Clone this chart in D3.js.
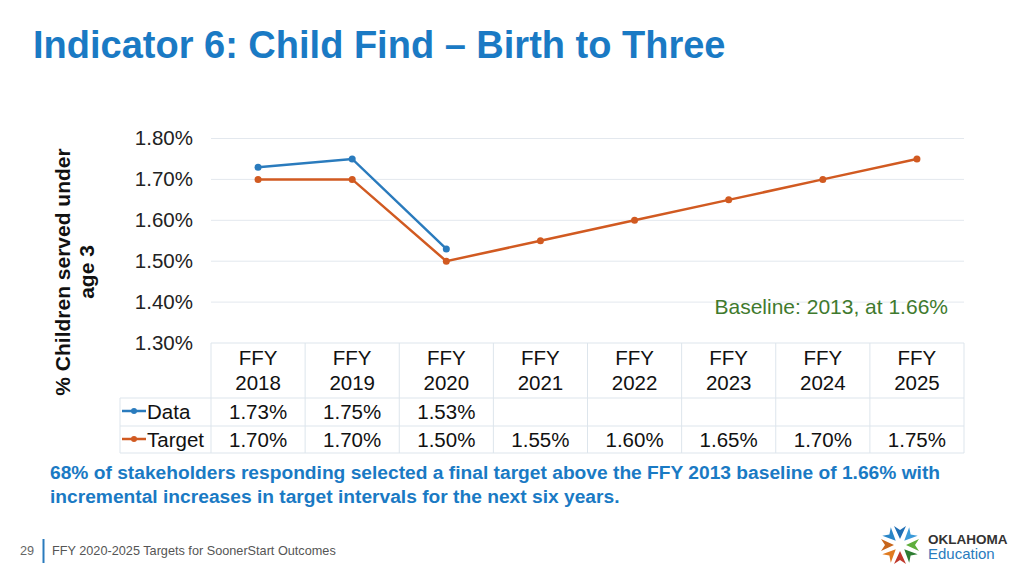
<!DOCTYPE html>
<html><head><meta charset="utf-8">
<script src="https://cdn.jsdelivr.net/npm/d3@7"></script>
<style>body{margin:0;background:#fff}svg{display:block;font-family:"Liberation Sans",Arial,sans-serif}</style>
</head><body><svg id="c" width="1024" height="576"></svg>
<script>
const categories = ["FFY 2018","FFY 2019","FFY 2020","FFY 2021","FFY 2022","FFY 2023","FFY 2024","FFY 2025"];
const dataValues = [1.73, 1.75, 1.53, null, null, null, null, null];
const targetValues = [1.70, 1.70, 1.50, 1.55, 1.60, 1.65, 1.70, 1.75];
const yTicks = [1.30, 1.40, 1.50, 1.60, 1.70, 1.80];
const seriesNames = ["Data", "Target"];

const svg = d3.select("#c");
const blue = "#2a7bbd", orange = "#d15a21", grid = "#e3e8ee";

svg.append("text").attr("x",33).attr("y",58).attr("fill","#1a7ac4")
  .attr("font-weight","bold").attr("font-size",38).text("Indicator 6: Child Find \u2013 Birth to Three");

const x = d3.scaleBand().domain(categories).range([211,964]);
const y = d3.scaleLinear().domain([1.30,1.80]).range([343,138.5]);

// grid
svg.append("g").selectAll("line").data(yTicks.slice(1)).join("line")
  .attr("x1",211).attr("x2",964).attr("y1",d=>y(d)).attr("y2",d=>y(d))
  .attr("stroke",grid).attr("stroke-width",1);

// y axis
const ya = svg.append("g").attr("transform","translate(193,0)")
  .call(d3.axisLeft(y).tickValues(yTicks).tickFormat(d=>d.toFixed(2)+"%").tickSize(0).tickPadding(0));
ya.select(".domain").remove();
ya.selectAll("text").attr("font-size",20.5).attr("fill","#222").attr("font-family","Liberation Sans, Arial, sans-serif").attr("dy","0.3em");

// y label
const yl = svg.append("text").attr("transform","translate(70,272) rotate(-90)")
  .attr("text-anchor","middle").attr("font-weight","bold").attr("font-size",21).attr("fill","#111");
yl.append("tspan").attr("x",0).attr("dy",0).text("% Children served under");
yl.append("tspan").attr("x",0).attr("dy",24).text("age 3");

// lines
const cx = d=>x(d)+x.bandwidth()/2;
const series = [{name:seriesNames[0],vals:dataValues,color:blue},{name:seriesNames[1],vals:targetValues,color:orange}];
series.forEach(s=>{
  const pts = categories.map((c,i)=>({c,v:s.vals[i]})).filter(p=>p.v!=null);
  svg.append("path").datum(pts).attr("fill","none").attr("stroke",s.color).attr("stroke-width",2.5)
    .attr("d",d3.line().x(p=>cx(p.c)).y(p=>y(p.v)));
  svg.append("g").selectAll("circle").data(pts).join("circle")
    .attr("cx",p=>cx(p.c)).attr("cy",p=>y(p.v)).attr("r",3.5).attr("fill",s.color);
});

// baseline annotation
svg.append("text").attr("x",948).attr("y",314).attr("text-anchor","end").attr("fill","#3f7a2e")
  .attr("font-size",21).text("Baseline: 2013, at 1.66%");

// data table
const tb = svg.append("g");
const tc = "#dde5ec";
tb.append("line").attr("x1",211).attr("x2",964).attr("y1",343).attr("y2",343).attr("stroke",tc);
[398,426,453].forEach(r=>tb.append("line").attr("x1",120).attr("x2",964).attr("y1",r).attr("y2",r).attr("stroke",tc));
categories.forEach(c=>tb.append("line").attr("x1",x(c)).attr("x2",x(c)).attr("y1",343).attr("y2",453).attr("stroke",tc));
tb.append("line").attr("x1",964).attr("x2",964).attr("y1",343).attr("y2",453).attr("stroke",tc);
tb.append("line").attr("x1",120).attr("x2",120).attr("y1",398).attr("y2",453).attr("stroke",tc);
categories.forEach(c=>{
  const [a,b] = c.split(" ");
  tb.append("text").attr("x",cx(c)).attr("y",365).attr("text-anchor","middle").attr("font-size",20.5).attr("fill","#111").text(a);
  tb.append("text").attr("x",cx(c)).attr("y",390).attr("text-anchor","middle").attr("font-size",20.5).attr("fill","#111").text(b);
});
const rowY = [418.5, 446.5];
series.forEach((s,si)=>{
  const ry = rowY[si];
  tb.append("line").attr("x1",122).attr("x2",146).attr("y1",ry-7.5).attr("y2",ry-7.5).attr("stroke",s.color).attr("stroke-width",2.5);
  tb.append("circle").attr("cx",134).attr("cy",ry-7.5).attr("r",3).attr("fill",s.color);
  tb.append("text").attr("x",147).attr("y",ry).attr("font-size",20.5).attr("fill","#111").text(s.name);
  categories.forEach((c,i)=>{
    if(s.vals[i]!=null) tb.append("text").attr("x",cx(c)).attr("y",ry).attr("text-anchor","middle")
      .attr("font-size",20.5).attr("fill","#111").text(s.vals[i].toFixed(2)+"%");
  });
});

// note
const nt = svg.append("g").attr("fill","#1a7ac4").attr("font-weight","bold").attr("font-size",19.2);
nt.append("text").attr("x",50).attr("y",479).text("68% of stakeholders responding selected a final target above the FFY 2013 baseline of 1.66% with");
nt.append("text").attr("x",50).attr("y",503).text("incremental increases in target intervals for the next six years.");

// footer
svg.append("text").attr("x",20).attr("y",555).attr("font-size",12.7).attr("fill","#666").text("29");
svg.append("line").attr("x1",43.5).attr("x2",43.5).attr("y1",539).attr("y2",563).attr("stroke","#2a7bbd").attr("stroke-width",2);
svg.append("text").attr("x",52).attr("y",555).attr("font-size",12.7).attr("fill","#555").text("FFY 2020-2025 Targets for SoonerStart Outcomes");

// logo
const lg = svg.append("g").attr("transform","translate(900,545)");
const petals = ["#1f6fb5","#3a9ad9","#5fae3c","#2e7d32","#c0392b","#e07b20","#c8661c","#2a86c8"];
petals.forEach((col,i)=>{
  lg.append("path").attr("d","M0,-6 L-6,-19 L0,-15 L6,-19 Z").attr("fill",col)
    .attr("transform",`rotate(${i*45})`);
});
svg.append("text").attr("x",928).attr("y",544).attr("font-size",13.5).attr("font-weight","bold").attr("fill","#333").text("OKLAHOMA");
svg.append("text").attr("x",928).attr("y",559).attr("font-size",15).attr("fill","#2a7bbd").text("Education");
</script></body></html>
